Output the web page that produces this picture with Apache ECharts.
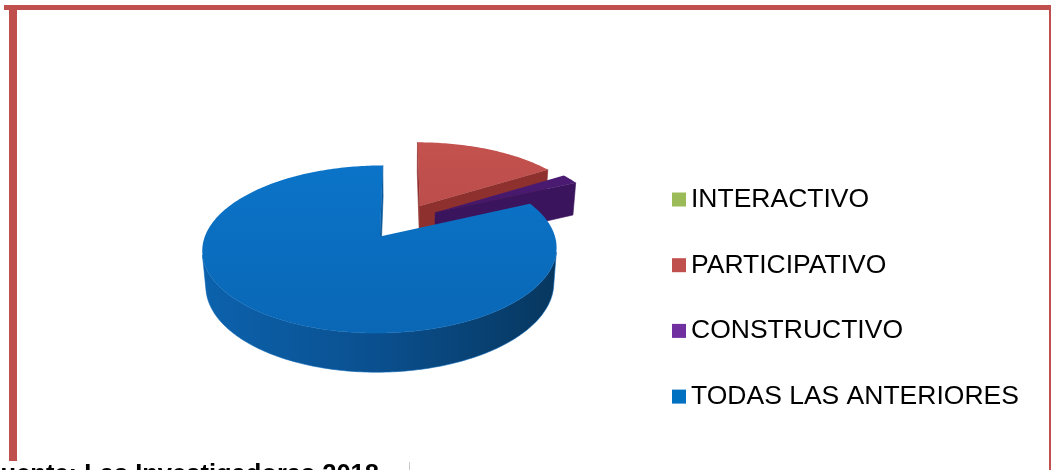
<!DOCTYPE html>
<html>
<head>
<meta charset="utf-8">
<script src="https://cdn.jsdelivr.net/npm/echarts@6/dist/echarts.min.js"></script>
<style>
  html, body { margin: 0; padding: 0; background: #ffffff; }
  #chart { width: 1051px; height: 470px; }
</style>
</head>
<body>
<div id="chart"></div>
<script>
// ---- data ----
const categories = ['INTERACTIVO', 'PARTICIPATIVO', 'CONSTRUCTIVO', 'TODAS LAS ANTERIORES'];
const values = [0, 16, 2, 82];
const sourceNote = 'Fuente: Las Investigadoras 2018';

// ---- colours ----
const legendColors = ['#9BBB59', '#C0504D', '#7030A0', '#0070C0'];
const topColors = [['#a3c262', '#93b153'], ['#c4524f', '#bb4d4a'], ['#4c1b74', '#421766'], ['#0b74c8', '#0a67b6']];
const wallColors = [['#86a548', '#6f8a3a', '#6f8a3a'], ['#a03835', '#8a2d2a', '#8a2d2a'], ['#4a1a70', '#3b145c', '#3b145c'], ['#0c62ad', '#0a4f8e', '#07375f']];
const radialColors = ['#7d9a43', '#8e302d', '#3b145e', '#0a5799'];

// ---- 3D pie projection ----
const CX = 401.5, CY = 221;          // projected pie centre
const FOCAL = 1020, DIST = 6;        // perspective
const TILT = 27 * Math.PI / 180;     // elevation of the view
const DEPTH = 0.23;                  // pie thickness (radius = 1)
const EXPLODE = 0.23;                // slice separation
const cosT = Math.cos(TILT), sinT = Math.sin(TILT);
const CAM = [0, DIST * sinT, -DIST * cosT];

function project(X, Y, Z) {
  const v = Y * cosT + Z * sinT;
  const d = DIST + Z * cosT - Y * sinT;
  return [CX + FOCAL * X / d, CY - FOCAL * v / d];
}
function camDist(P) {
  return Math.hypot(P[0] - CAM[0], P[1] - CAM[1], P[2] - CAM[2]);
}
function facing(n, P) {
  return n[0] * (CAM[0] - P[0]) + n[1] * (CAM[1] - P[1]) + n[2] * (CAM[2] - P[2]) > 0;
}

const total = values.reduce((a, b) => a + b, 0);

function sliceFaces(i, v) {
  if (!(v > 0)) return [];
  let cum = 0;
  for (let k = 0; k < i; k++) cum += values[k];
  const a0 = 2 * Math.PI * cum / total;
  const a1 = 2 * Math.PI * (cum + v) / total;
  const am = (a0 + a1) / 2;
  const ox = EXPLODE * Math.sin(am), oz = EXPLODE * Math.cos(am);
  const rim = (a, y) => [ox + Math.sin(a), y, oz + Math.cos(a)];
  const steps = Math.max(2, Math.ceil((a1 - a0) / (Math.PI / 180)));
  const faces = [];

  // top face
  const topPts = [project(ox, 0, oz)];
  for (let s = 0; s <= steps; s++) {
    const a = a0 + (a1 - a0) * s / steps;
    topPts.push(project(...rim(a, 0)));
  }
  faces.push({ kind: 'top', pts: topPts, depth: camDist([ox, 0, oz]) });

  // curved outer wall, only the part turned towards the viewer
  let run = [];
  const flush = () => {
    if (run.length > 1) {
      const pts = run.map(a => project(...rim(a, 0)))
        .concat(run.slice().reverse().map(a => project(...rim(a, -DEPTH))));
      const amid = run[Math.floor(run.length / 2)];
      faces.push({ kind: 'outer', pts, depth: camDist(rim(amid, -DEPTH / 2)) });
    }
    run = [];
  };
  for (let s = 0; s <= steps; s++) {
    const a = a0 + (a1 - a0) * s / steps;
    if (facing([Math.sin(a), 0, Math.cos(a)], rim(a, -DEPTH / 2))) run.push(a);
    else flush();
  }
  flush();

  // flat radial walls at both cut edges
  [[a0, [-Math.cos(a0), 0, Math.sin(a0)]], [a1, [Math.cos(a1), 0, -Math.sin(a1)]]].forEach(([a, n]) => {
    const mid = [ox + 0.5 * Math.sin(a), -DEPTH / 2, oz + 0.5 * Math.cos(a)];
    if (!facing(n, mid)) return;
    const pts = [project(ox, 0, oz), project(...rim(a, 0)), project(...rim(a, -DEPTH)), project(ox, -DEPTH, oz)];
    faces.push({ kind: 'radial', pts, depth: camDist(mid) });
  });
  return faces;
}

function faceFill(i, f) {
  if (f.kind === 'top') {
    return new echarts.graphic.LinearGradient(0, 0, 0, 1, [
      { offset: 0, color: topColors[i][0] }, { offset: 1, color: topColors[i][1] }]);
  }
  if (f.kind === 'outer') {
    return new echarts.graphic.LinearGradient(0, 0, 1, 0, [
      { offset: 0, color: wallColors[i][0] },
      { offset: 0.5, color: wallColors[i][1] },
      { offset: 1, color: wallColors[i][2] }]);
  }
  return radialColors[i];
}

function renderSlice(i) {
  return function (params, api) {
    const faces = sliceFaces(i, api.value(0));
    return {
      type: 'group',
      children: faces.map(f => {
        const fill = faceFill(i, f);
        return {
          type: 'polygon',
          z2: (f.kind === 'top' ? 2000 : 1000) - Math.round(f.depth * 100),
          shape: { points: f.pts },
          style: { fill: fill, stroke: typeof fill === 'string' ? fill : topColors[i][1], lineWidth: f.kind === 'top' ? 0 : 0.6 }
        };
      })
    };
  };
}

const chart = echarts.init(document.getElementById('chart'), null, { renderer: 'canvas' });

chart.setOption({
  backgroundColor: '#ffffff',
  animation: false,
  legend: {
    data: categories,
    orient: 'vertical',
    left: 667,
    top: 181,
    itemWidth: 14,
    itemHeight: 14,
    itemGap: 38.7,
    icon: 'rect',
    selectedMode: false,
    textStyle: { fontFamily: '"Liberation Sans", Arial, sans-serif', fontSize: 26.5, lineHeight: 26, color: '#000000' }
  },
  graphic: [
    { type: 'rect', shape: { x: 4, y: 5, width: 1047, height: 5 }, style: { fill: '#C0504D' } },
    { type: 'rect', shape: { x: 9, y: 5, width: 8, height: 456 }, style: { fill: '#C0504D' } },
    { type: 'rect', shape: { x: 1049, y: 5, width: 2, height: 465 }, style: { fill: '#C0504D' } },
    { type: 'rect', shape: { x: 409, y: 462, width: 1, height: 8 }, style: { fill: '#c8c8c8' } },
    {
      type: 'text', x: -15, y: 462,
      style: { text: sourceNote, font: 'bold 25.5px "Liberation Sans", Arial, sans-serif', fill: '#000000', verticalAlign: 'top' }
    }
  ],
  series: categories.map((name, i) => ({
    type: 'custom',
    name: name,
    coordinateSystem: 'none',
    silent: true,
    itemStyle: { color: legendColors[i] },
    renderItem: renderSlice(i),
    data: [[values[i]]]
  }))
});
</script>
</body>
</html>
